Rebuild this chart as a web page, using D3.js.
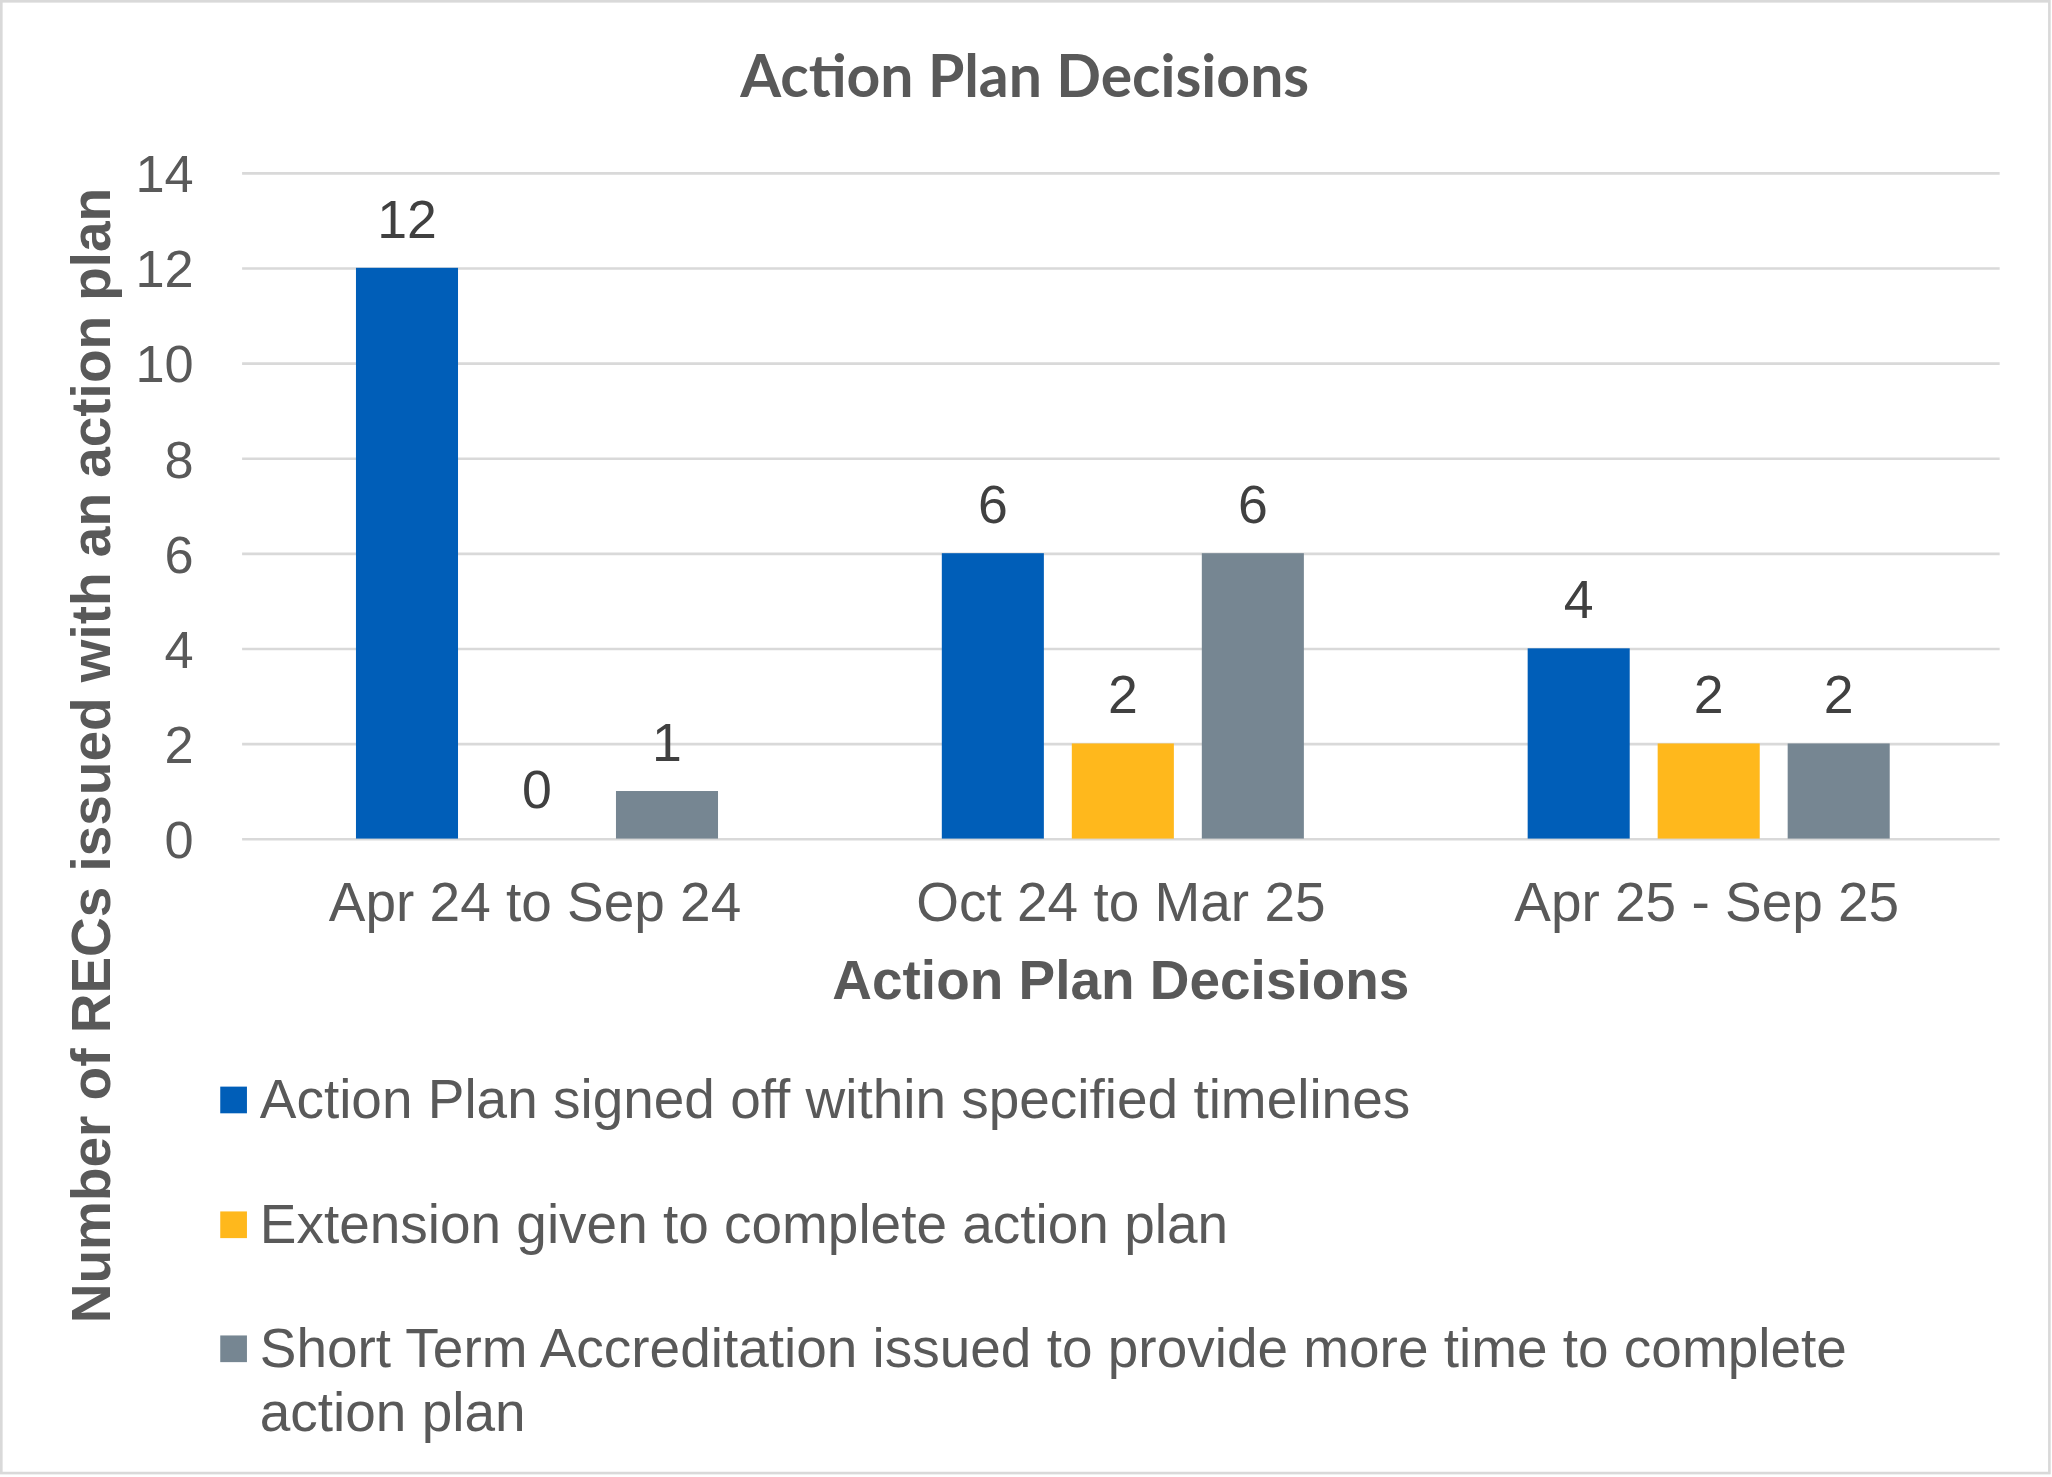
<!DOCTYPE html>
<html>
<head>
<meta charset="utf-8">
<script src="https://cdn.jsdelivr.net/npm/d3@7"></script>
<style>
  html, body { margin: 0; padding: 0; background: #ffffff; }
  svg { display: block; }
</style>
</head>
<body>
<svg id="chart" width="2052" height="1477" viewBox="0 0 1568 1129" preserveAspectRatio="none"></svg>
<script>
const categories = ["Apr 24 to Sep 24", "Oct 24 to Mar 25", "Apr 25 - Sep 25"];
const seriesNames = [
  "Action Plan signed off within specified timelines",
  "Extension given to complete action plan",
  "Short Term Accreditation issued to provide more time to complete action plan"
];
const signedOff = [12, 6, 4];
const extension = [0, 2, 2];
const shortTerm = [1, 6, 2];
const yTicks = [0, 2, 4, 6, 8, 10, 12, 14];
const seriesColors = ["#005EB8", "#FFB81C", "#768692"];
const titleText = "Action Plan Decisions";
const xTitleText = "Action Plan Decisions";
const yTitleText = "Number of RECs issued with an action plan";
const legendLines = [
  ["Action Plan signed off within specified timelines"],
  ["Extension given to complete action plan"],
  ["Short Term Accreditation issued to provide more time to complete", "action plan"]
];

const seriesValues = [signedOff, extension, shortTerm];
const rows = categories.map((c, i) => ({
  cat: c,
  vals: seriesNames.map((s, j) => ({ s, j, v: seriesValues[j][i] }))
}));

const svg = d3.select("#chart");
const SANS = "'Liberation Sans', Arial, sans-serif";

// border
svg.append("rect")
  .attr("x", 1).attr("y", 1).attr("width", 1565).attr("height", 1125)
  .attr("fill", "#fff").attr("stroke", "#d9d9d9").attr("stroke-width", 2);

const plot = { left: 185, right: 1528, top: 132, bottom: 641 };

const x0 = d3.scaleBand().domain(categories)
  .range([plot.left + 1.5, plot.right + 1.5]).paddingInner(0.382).paddingOuter(0.191);
const x1 = d3.scaleBand().domain(seriesNames)
  .range([0, x0.bandwidth()]).paddingInner(0.215).paddingOuter(0);
const y = d3.scaleLinear().domain([0, 14]).range([plot.bottom, plot.top]);

// gridlines
const grid = svg.append("g")
  .attr("transform", `translate(${plot.left},0)`)
  .call(d3.axisLeft(y).tickValues(yTicks).tickSize(-(plot.right - plot.left)).tickFormat(""));
grid.select(".domain").remove();
grid.selectAll("line").attr("stroke", "#d9d9d9").attr("stroke-width", 2);

// y axis labels
const yAxis = svg.append("g")
  .attr("transform", `translate(${plot.left},0)`)
  .call(d3.axisLeft(y).tickValues(yTicks).tickSize(0).tickPadding(37));
yAxis.select(".domain").remove();
yAxis.selectAll("text")
  .attr("font-family", SANS).attr("font-size", 40).attr("fill", "#595959").attr("dy", "0.36em");

// x axis labels
const xAxis = svg.append("g")
  .attr("transform", `translate(0,${plot.bottom})`)
  .call(d3.axisBottom(d3.scaleBand().domain(categories).range([plot.left, plot.right])).tickSize(0).tickPadding(33));
xAxis.select(".domain").remove();
xAxis.selectAll("text")
  .attr("font-family", SANS).attr("font-size", 42).attr("fill", "#595959").attr("dy", "0.71em");

// bars
const groups = svg.append("g").selectAll("g").data(rows).join("g")
  .attr("transform", d => `translate(${x0(d.cat)},0)`);
groups.selectAll("rect").data(d => d.vals).join("rect")
  .attr("x", d => x1(d.s))
  .attr("width", x1.bandwidth())
  .attr("y", d => y(d.v))
  .attr("height", d => y(0) - y(d.v))
  .attr("fill", d => seriesColors[d.j]);

// data labels
groups.selectAll("text").data(d => d.vals).join("text")
  .attr("x", d => x1(d.s) + x1.bandwidth() / 2)
  .attr("y", d => y(d.v) - 23)
  .attr("text-anchor", "middle")
  .attr("font-family", SANS).attr("font-size", 41).attr("fill", "#404040")
  .text(d => d.v);

// title
svg.append("text")
  .attr("x", 783).attr("y", 74)
  .attr("text-anchor", "middle")
  .attr("font-family", "Lato, 'Open Sans', sans-serif").attr("font-weight", 700)
  .attr("font-size", 45).attr("fill", "#595959")
  .text(titleText);

// x axis title
svg.append("text")
  .attr("x", (plot.left + plot.right) / 2).attr("y", 764)
  .attr("text-anchor", "middle")
  .attr("font-family", SANS).attr("font-weight", 700)
  .attr("font-size", 42).attr("fill", "#595959")
  .text(xTitleText);

// y axis title
svg.append("text")
  .attr("transform", `translate(84,${(145 + 1010) / 2}) rotate(-90)`)
  .attr("text-anchor", "middle")
  .attr("font-family", SANS).attr("font-weight", 700)
  .attr("font-size", 42).attr("fill", "#595959")
  .text(yTitleText);

// legend
const legendBaselines = [854.6, 950, 1044.8];
const legend = svg.append("g").selectAll("g").data(legendLines).join("g");
legend.append("rect")
  .attr("x", 168.3).attr("y", (d, i) => legendBaselines[i] - 24)
  .attr("width", 20.4).attr("height", 20.4)
  .attr("fill", (d, i) => seriesColors[i]);
legend.append("text")
  .attr("x", 198.5).attr("y", (d, i) => legendBaselines[i])
  .attr("font-family", SANS).attr("font-size", 42).attr("fill", "#595959")
  .selectAll("tspan").data(d => d).join("tspan")
  .attr("x", 198.5).attr("dy", (d, k) => k === 0 ? 0 : 48.7)
  .text(d => d);
</script>
</body>
</html>
